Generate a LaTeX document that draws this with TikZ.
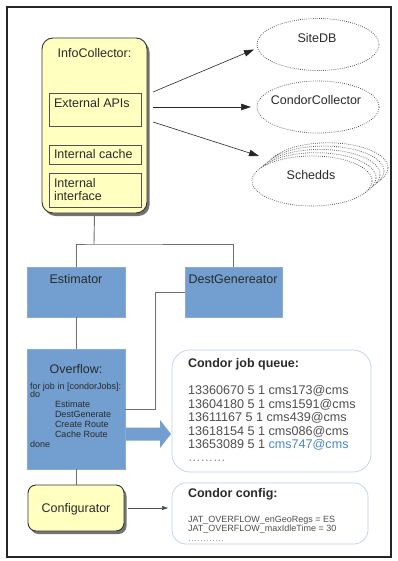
\documentclass[tikz,border=0pt]{standalone}
\usepackage{fontspec}
\setmainfont{Liberation Sans}
\usetikzlibrary{shapes.geometric,arrows.meta,shadows,calc}

\definecolor{note}{HTML}{FFFFC0}
\definecolor{boxblue}{HTML}{729FCF}
\definecolor{edge}{HTML}{333333}
\definecolor{wire}{HTML}{6E6E6E}
\definecolor{ink}{HTML}{2A2A2A}
\definecolor{grey}{HTML}{4D4D4D}
\definecolor{soft}{HTML}{BCD0E8}
\definecolor{link}{HTML}{4A86C8}

\begin{document}
\begin{tikzpicture}[x=1pt,y=-1pt,
  every node/.style={inner sep=0pt, outer sep=0pt},
  big/.style={font=\fontsize{12.5}{14}\selectfont, text=ink},
  bigbold/.style={font=\fontsize{12.5}{14}\selectfont\bfseries, text=ink},
  small/.style={font=\fontsize{9}{10}\selectfont, text=ink},
  faint/.style={font=\fontsize{9}{10}\selectfont, text=grey},
  queueline/.style={font=\fontsize{12.6}{14}\selectfont, text=grey, anchor=base west},
  notebox/.style={draw=edge, line width=0.9pt, fill=note, rounded corners=11pt,
    drop shadow={shadow xshift=2.5pt, shadow yshift=-3pt, fill=black, opacity=0.55}},
  part/.style={draw=edge!85, line width=0.6pt, fill=note},
  stage/.style={fill=boxblue, draw=boxblue!85!white, line width=0.4pt},
  service/.style={ellipse, draw=black!70, line width=0.75pt,
    dash pattern=on 0.75pt off 1.35pt, fill=white},
  panel/.style={draw=soft, line width=0.7pt, rounded corners=18pt},
  conn/.style={draw=wire, line width=0.9pt},
  ray/.style={draw=black!85, line width=0.6pt, -{Triangle[length=10pt,width=6.5pt]}},
  thinray/.style={draw=black!70, line width=0.5pt, -{Triangle[length=6pt,width=4pt]}},
]
\useasboundingbox (0,0) rectangle (397,561);

% outer frame
\draw[line width=1.3pt, draw=black!85] (7,7) rectangle (391,557);

% ---------------- InfoCollector ----------------
\node[notebox, minimum width=105pt, minimum height=175pt, anchor=north west] (info) at (42,38) {};
\node[big, anchor=base] (infot) at (94.5,58) {InfoCollector:};
\node[part, minimum width=92pt, minimum height=33pt, anchor=north west] (ext) at (49,93) {};
\node[big, anchor=base west] (extt) at (54,108) {External APIs};
\node[part, minimum width=92pt, minimum height=19pt, anchor=north west] (cache) at (49,145) {};
\node[big, anchor=base west] (cachet) at (54,159) {Internal cache};
\node[part, minimum width=92pt, minimum height=34pt, anchor=north west] (iface) at (49,173) {};
\node[big, anchor=base west] (ifacet1) at (54,188) {Internal};
\node[big, anchor=base west] (ifacet2) at (54,200.5) {interface};

% ---------------- external services ----------------
\node[service, minimum width=122pt, minimum height=52pt] (sitedb) at (318,44.5) {};
\node[big, anchor=base] (sitedbt) at (317,43) {SiteDB};
\node[service, minimum width=122pt, minimum height=52pt] (cc) at (318,107) {};
\node[big, anchor=base] (cct) at (316,105) {CondorCollector};
\foreach \k in {4,3,2,1}
  \node[service, minimum width=120pt, minimum height=50pt] (sched\k) at ({312+4*\k},{181-3.3*\k}) {};
\node[service, minimum width=120pt, minimum height=50pt] (sched) at (312,181) {};
\node[big, anchor=base] (schedt) at (311,180) {Schedds};

\coordinate (s1) at (153,92);
\coordinate (s2) at (153,107);
\coordinate (s3) at (153,122);
\coordinate (e1) at (254,49.5);
\coordinate (e3) at (259,156);
\draw[ray] (s1) -- (e1);
\draw[ray, shorten >=6pt] (s2) -- (cc.west);
\draw[ray] (s3) -- (e3);

% ---------------- processing stages ----------------
\node[stage, minimum width=98pt, minimum height=50pt, anchor=north west] (est) at (27,267) {};
\node[big, anchor=base] (estt) at (76,283) {Estimator};
\node[stage, minimum width=97pt, minimum height=50pt, anchor=north west] (dest) at (185,267) {};
\node[big, anchor=base] (destt) at (233,283) {DestGenereator};
\node[stage, minimum width=98pt, minimum height=120pt, anchor=north west] (ovf) at (27,349) {};
\node[big, anchor=base] (ovft) at (76,373.5) {Overflow:};
\foreach \t/\x/\y [count=\i] in {
    {for job in [condorJobs]:}/30/389,
    {do}/30/397,
    {Estimate}/55/407,
    {DestGenerate}/55/417,
    {Create Route}/55/427,
    {Cache Route}/55/437,
    {done}/30/447}
  \node[small, anchor=base west] (code\i) at (\x,\y) {\t};

% connectors between the stages
\coordinate (bus) at (94,244);
\draw[conn] (info.south) -- (bus);
\draw[conn] (est.north) |- (bus) -| (dest.north);
\draw[conn] (est.south) -- (ovf.north);
\coordinate (bend) at (155,409);
\draw[conn] (dest.west) -| (bend) -- (bend -| ovf.east);

% block arrow into the job queue
\coordinate (qa) at (126,434);
\coordinate (qtip) at (171,434);
\fill[boxblue] ($(qa)+(0,-6.5)$) -- ++(34,0) -- ++(0,-7.5) -- (qtip)
  -- ++(-11,14) -- ++(0,-7.5) -- ++(-34,0) -- cycle;

% ---------------- Condor job queue ----------------
\node[panel, minimum width=199pt, minimum height=122pt, anchor=north west] (queue) at (172,350) {};
\node[bigbold, anchor=base west] (queuet) at (188,367) {Condor job queue:};
\node[queueline] (q1) at (188,394.3) {13360670 5 1 cms173@cms};
\node[queueline] (q2) at (188,408) {13604180 5 1 cms1591@cms};
\node[queueline] (q3) at (188,421.5) {13611167 5 1 cms439@cms};
\node[queueline] (q4) at (188,435) {13618154 5 1 cms086@cms};
\node[queueline] (q5) at (188,448.5) {13653089 5 1 \textcolor{link}{cms747@cms}};
\node[queueline, text=grey!70] (q6) at (188,461) {………};

% ---------------- Configurator ----------------
\node[notebox, rounded corners=8pt, minimum width=96pt, minimum height=46pt, anchor=north west] (conf) at (28,485) {};
\node[big, anchor=base] (conft) at (76,512.5) {Configurator};
\draw[conn] (ovf.south) -- (conf.north);
\coordinate (ctip) at (168,508);
\draw[thinray] ([xshift=4pt]conf.east) -- (ctip);

% ---------------- Condor config ----------------
\node[panel, rounded corners=14pt, minimum width=196pt, minimum height=61pt, anchor=north west] (config) at (172,483) {};
\node[bigbold, anchor=base west] (configt) at (188,497.5) {Condor config:};
\node[faint, anchor=base west] (c1) at (188,522) {JAT\_OVERFLOW\_enGeoRegs = ES};
\node[faint, anchor=base west] (c2) at (188,531.5) {JAT\_OVERFLOW\_maxIdleTime = 30};
\node[faint, anchor=base west, text=grey!60] (c3) at (188,541) {…………};
\end{tikzpicture}
\end{document}
